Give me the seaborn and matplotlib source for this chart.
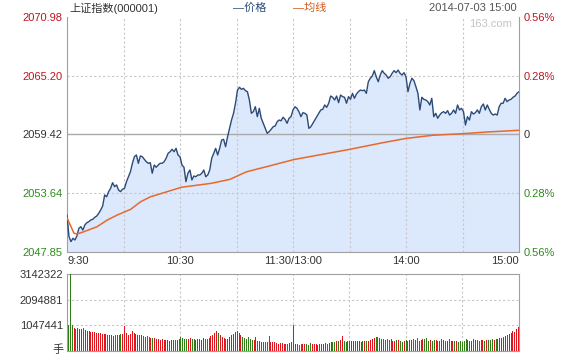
import seaborn as sns
import matplotlib.pyplot as plt
import numpy as np
import pandas as pd

# 上证指数 2014-07-03 分时 (price, left to right)
price = [
    2051.49, 2049.36, 2048.87, 2049.20, 2049.03, 2049.42, 2050.18, 2050.34, 2050.01, 2050.51,
    2050.73, 2050.83, 2051.00, 2051.07, 2051.26, 2051.39, 2051.66, 2051.98, 2052.38, 2053.46,
    2053.29, 2053.79, 2054.12, 2054.67, 2054.28, 2054.45, 2053.95, 2053.79, 2054.03, 2054.12,
    2054.77, 2055.26, 2055.75, 2056.58, 2057.23, 2057.40, 2056.58, 2057.30, 2057.23, 2056.97,
    2056.74, 2056.58, 2056.64, 2055.60, 2056.41, 2056.19, 2056.41, 2056.58, 2056.58, 2056.74,
    2057.07, 2057.56, 2057.72, 2057.96, 2057.72, 2058.05, 2057.40, 2057.23,
    2056.41, 2056.19, 2054.77, 2055.60, 2055.92, 2054.94, 2055.33, 2055.26, 2055.43, 2055.43,
    2055.60, 2055.92, 2055.26, 2055.43, 2055.92, 2057.07, 2057.56, 2058.05, 2057.40, 2058.05,
    2058.87, 2058.94, 2058.21, 2059.20, 2060.02, 2060.84, 2061.50, 2062.49, 2063.79, 2064.06,
    2063.86, 2063.96, 2063.73, 2063.63, 2062.81, 2061.50, 2061.66, 2062.15, 2061.17, 2061.99,
    2061.01, 2060.52, 2060.02, 2059.53, 2059.70, 2059.93, 2060.18, 2060.25, 2060.67, 2060.84,
    2060.77, 2061.11, 2060.91, 2060.52, 2061.01, 2061.17, 2061.83, 2062.15,
    2061.99, 2061.66, 2061.17, 2061.56, 2061.50, 2061.33, 2060.02, 2060.18, 2060.52, 2060.84,
    2061.17, 2061.50, 2061.83, 2061.89, 2062.32, 2062.09, 2062.49, 2063.20, 2063.08, 2062.81,
    2063.20, 2062.55, 2063.30, 2063.14, 2063.08, 2062.49, 2063.14, 2062.88, 2063.47, 2062.98,
    2063.40, 2063.63, 2063.79, 2063.73, 2063.79, 2063.47, 2064.61, 2064.95, 2065.17, 2065.70,
    2065.10, 2064.61, 2065.27, 2065.70, 2065.44, 2065.27, 2064.95, 2065.10, 2065.44, 2065.70,
    2065.50, 2065.76, 2065.44, 2065.27, 2065.50,
    2065.10, 2063.63, 2064.45, 2064.95, 2064.71, 2064.12, 2063.47, 2061.83, 2063.08, 2062.88,
    2062.81, 2062.65, 2062.32, 2062.98, 2061.17, 2061.50, 2061.01, 2061.33, 2061.56, 2061.66,
    2061.50, 2061.76, 2061.33, 2061.50, 2061.83, 2061.50, 2062.32, 2061.83, 2061.99, 2061.66,
    2060.35, 2061.17, 2060.84, 2061.66, 2061.43, 2061.56, 2061.83, 2061.50, 2062.15, 2062.42,
    2061.83, 2062.32, 2061.89, 2061.50, 2061.33, 2061.43, 2061.33, 2062.15, 2062.49, 2062.49,
    2062.98, 2062.65, 2062.81, 2062.88, 2063.08, 2063.20, 2063.47, 2063.63,
]

# 均线 (minute, value)
avg_min = [0, 3.7, 5.3, 9, 16, 21.4, 26.7, 33.8, 39.1, 44.4, 51.5, 60.7, 76.6, 86.5,
           95.4, 106, 120.5, 150.3, 168, 180.4, 194.3, 210.4, 222.9, 240]
avg_val = [2051.2, 2049.7, 2049.62, 2049.85, 2050.34, 2051.0, 2051.49, 2052.05, 2052.8,
           2053.29, 2053.69, 2054.22, 2054.61, 2055.0, 2055.75, 2056.25, 2056.95, 2057.96,
           2058.62, 2059.04, 2059.34, 2059.5, 2059.66, 2059.83]

# volume per minute, in 万手
vol = [
    107, 314, 107,
    94, 90, 94,
    90, 88, 92, 85, 82,
    80, 78, 78, 76, 75, 74, 72, 70, 70, 68,
    66, 64, 66, 62, 64, 66, 64, 68, 70,
    100,
    72, 66, 70, 83, 74,
    68, 66, 66, 64, 60, 58, 60, 56, 55, 52,
    52, 50, 48, 46, 48, 45, 44, 46, 42, 44, 46, 43, 45, 48, 57,
    52, 50, 50, 48, 52, 50, 48, 46, 50, 48, 46, 52, 50, 48, 54,
    60, 66, 74, 83, 72,
    64, 58, 54, 50, 48, 56, 64, 70,
    76, 83, 72, 64,
    58, 52, 50, 56, 48, 45, 44, 57,
    42, 40, 38, 36, 36, 38, 62, 38, 35, 36,
    32, 30, 32, 34, 30, 28, 30, 32, 35,
    107,
    28, 30, 26, 28, 27, 30, 28, 26, 32, 30, 28, 30, 26, 30, 28,
    30, 32, 30, 34, 36, 38, 36, 40, 42, 44, 62, 42, 38, 40, 40,
    40, 42, 40, 42, 40, 38, 42, 40, 40, 42, 44, 50, 55, 57, 56,
    52, 50, 48, 44, 50, 46, 48, 40, 42, 44, 46, 40, 38, 42, 44,
    40, 45, 44, 48, 46, 52, 40, 46, 50, 48, 52, 40, 44, 42, 46,
    44, 40, 42, 48, 46, 40, 42, 50, 42, 40, 42, 40, 38, 40, 38,
    42, 48, 44, 40, 42, 48, 46, 44, 42, 46, 44, 42, 46, 44, 46,
    48, 46, 48, 50, 52, 54, 58, 62, 66, 70, 72, 80, 76, 90, 97,
]

price_ticks = [2047.85, 2053.64, 2059.42, 2065.20, 2070.98]
pct_labels = ['0.56%', '0.28%', '0', '0.28%', '0.56%']
vol_ticks = [1047441, 2094881, 3142322]
time_ticks = [0, 60, 120, 180, 240]
time_labels = ['9:30', '10:30', '11:30/13:00', '14:00', '15:00']

RED = '#c0141e'
GREEN = '#2e8a1c'
GRAY = '#333333'
tick_colors = [GREEN, GREEN, GRAY, RED, RED]

sns.set_style("white")
plt.rcParams['font.family'] = ['Liberation Sans', 'Noto Sans CJK SC', 'DejaVu Sans']

fig = plt.figure(figsize=(5.7, 3.6), dpi=100)
ax = fig.add_axes([67/570, 108/360, 452/570, 235/360])
axv = fig.add_axes([67/570, 9/360, 452/570, 77/360])

df = pd.DataFrame({'t': np.linspace(0, 240, len(price)), 'price': price})
ax.fill_between(df['t'], df['price'], price_ticks[0], color='#dce8fb', lw=0, zorder=1)
sns.lineplot(data=df, x='t', y='price', ax=ax, color='#2c4a78', lw=1, estimator=None, zorder=3)
sns.lineplot(x=avg_min, y=avg_val, ax=ax, color='#e8692d', lw=1.1, estimator=None, zorder=3)

grid_kw = dict(color='#c8c8c8', ls=(0, (2, 2)), lw=0.8, zorder=2)
for m in range(30, 240, 30):
    ax.axvline(m, **grid_kw)
    axv.axvline(m, **grid_kw)
ax.axhline(price_ticks[1], **grid_kw)
ax.axhline(price_ticks[3], **grid_kw)
ax.axhline(price_ticks[2], color='#aaaaaa', lw=1, zorder=2)

ax.set_xlim(0, 240)
ax.set_ylim(price_ticks[0], price_ticks[-1])
ax.set_xlabel('')
ax.set_ylabel('')
ax.set_yticks(price_ticks, labels=[f'{v:.2f}' for v in price_ticks])
ax.set_xticks(time_ticks, labels=time_labels)
xl = ax.get_xticklabels()
xl[0].set_ha('left')
xl[-1].set_ha('right')
ax.tick_params(length=0, pad=3, labelsize=8, colors=GRAY)
for lab, c in zip(ax.get_yticklabels(), tick_colors):
    lab.set_color(c)

ax2 = ax.twinx()
ax2.set_ylim(price_ticks[0], price_ticks[-1])
ax2.set_yticks(price_ticks, labels=pct_labels)
ax2.tick_params(length=0, pad=3, labelsize=8)
for lab, c in zip(ax2.get_yticklabels(), tick_colors):
    lab.set_color(c)
for s in ax2.spines.values():
    s.set_visible(False)

for s in ['left', 'bottom', 'right']:
    ax.spines[s].set_color('#a0a0a0')
ax.spines['top'].set_visible(False)

# volume: red when the minute closes up, green when down
minutes = np.arange(len(vol))
p_min = np.interp(minutes, df['t'], df['price'])
up = np.r_[False, np.diff(p_min) >= 0]
up[:3] = False
bar_colors = np.where(up, '#e0141c', '#2f7d16')
axv.vlines(minutes, 0, np.array(vol) * 1e4, colors=bar_colors, lw=0.72,
           antialiased=False, zorder=3)
axv.axhline(vol_ticks[0], **grid_kw)
axv.axhline(vol_ticks[1], **grid_kw)
axv.set_xlim(-0.5, 240.5)
axv.set_ylim(0, vol_ticks[-1])
axv.set_xticks([])
axv.set_yticks(vol_ticks, labels=[str(v) for v in vol_ticks])
axv.tick_params(length=0, pad=3, labelsize=8, colors=GRAY)
for s in axv.spines.values():
    s.set_color('#a0a0a0')

fig.text(58/570, 1 - 350/360, '手', fontsize=8, color=GRAY, ha='center', va='center')

# header
fig.text(69/570, 1 - 8/360, '上证指数(000001)', fontsize=8, color=GRAY, va='center')
fig.text(233/570, 1 - 8/360, '—价格', fontsize=8, color='#2c4a78', va='center')
fig.text(293/570, 1 - 8/360, '—均线', fontsize=8, color='#d2581c', va='center')
fig.text(517/570, 1 - 8/360, '2014-07-03 15:00', fontsize=8, color='#555555',
         ha='right', va='center')
fig.text(512/570, 1 - 24/360, '163.com', fontsize=8, color='#c4c4c4', ha='right', va='center')

fig.savefig('out.png', dpi=100)
